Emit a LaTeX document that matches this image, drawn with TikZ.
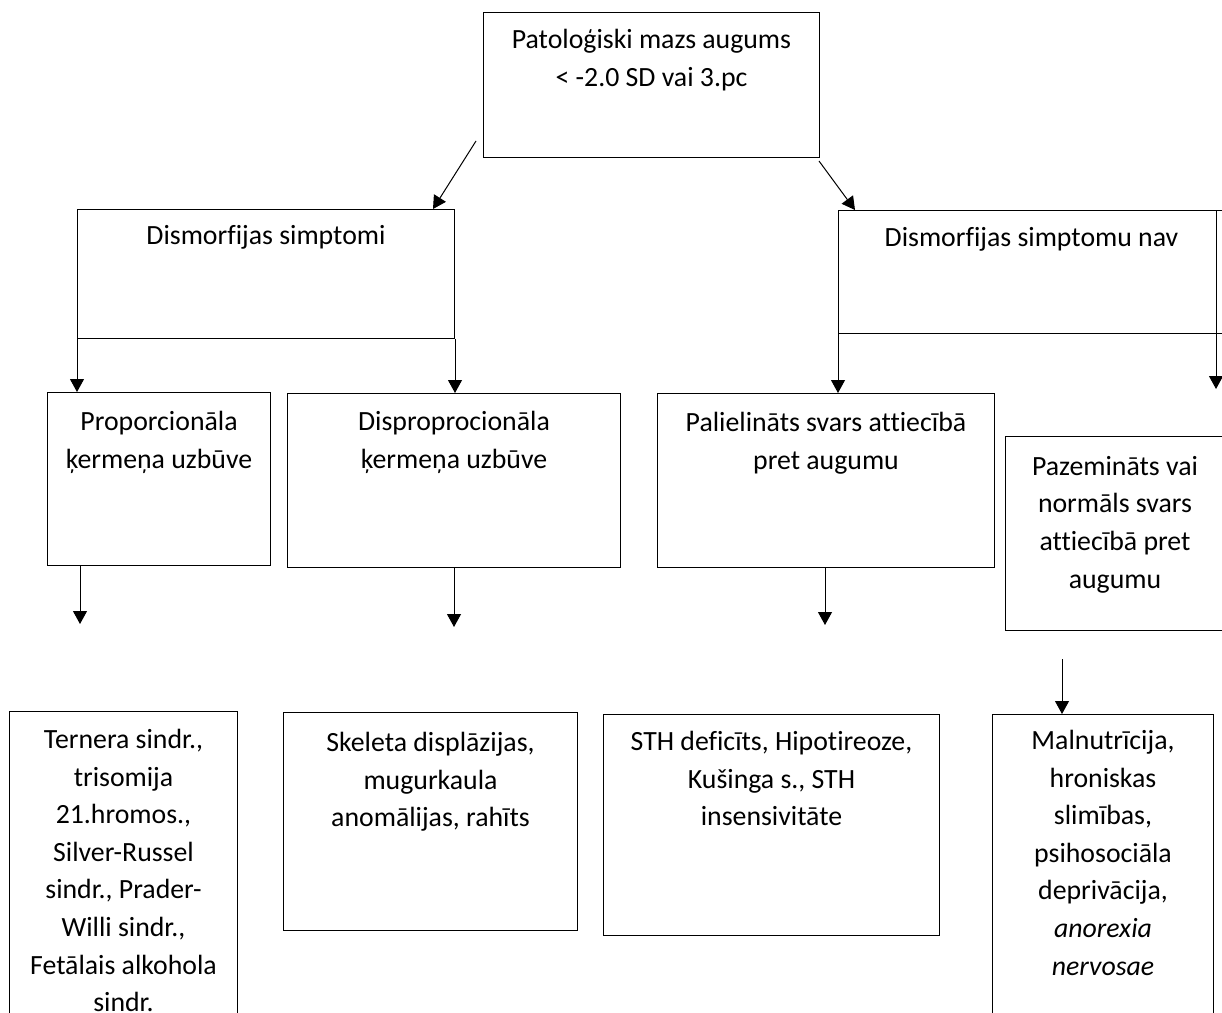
\documentclass[tikz,border=0pt]{standalone}
\usepackage{fontspec}
\setmainfont{Carlito}[Ligatures=NoCommon]
\usetikzlibrary{arrows.meta,positioning}

\begin{document}
\begin{tikzpicture}[x=1pt, y=-1pt,
    box/.style={draw, line width=1pt, inner sep=0pt, anchor=north west},
    txt/.style={align=center, inner sep=0pt, anchor=north,
      font=\fontsize{27.8}{37.6}\selectfont, execute at begin node=\strut},
    arr/.style={line width=1pt, -{Triangle[length=13pt, width=14pt]}},
    ]
    \useasboundingbox (0,0) rectangle (1222,1012);
    \clip (0,0) rectangle (1222,1012);

    % boxes
    \node[box, minimum width=336pt, minimum height=145pt] (top) at (483,12) {};
    \node[box, minimum width=377pt, minimum height=129pt] (dsym) at (77,209) {};
    \node[box, minimum width=386pt, minimum height=123pt] (dnav) at (838,210) {};
    \node[box, minimum width=223pt, minimum height=173pt] (prop) at (47,392) {};
    \node[box, minimum width=333pt, minimum height=174pt] (disp) at (287,393) {};
    \node[box, minimum width=337pt, minimum height=174pt] (pal) at (657,393) {};
    \node[box, minimum width=219pt, minimum height=194pt] (paz) at (1005,436) {};
    \node[box, minimum width=228pt, minimum height=320pt] (tern) at (9,711) {};
    \node[box, minimum width=294pt, minimum height=218pt] (skel) at (283,712) {};
    \node[box, minimum width=336pt, minimum height=221pt] (sth) at (603,714) {};
    \node[box, minimum width=221pt, minimum height=320pt] (maln) at (992,714) {};

    % texts
    \node[txt, below=17pt of top.north] (toptxt) {Patoloģiski mazs augums\\< -2.0 SD vai 3.pc};
    \node[txt, below=9pt of dsym.north] (dsymtxt) {Dismorfijas simptomi};
    \node[txt, below=10pt of dnav.north] (dnavtxt) {Dismorfijas simptomu nav};
    \node[txt, below=19pt of prop.north] (proptxt) {Proporcionāla\\ķermeņa uzbūve};
    \node[txt, below=18pt of disp.north] (disptxt) {Disproprocionāla\\ķermeņa uzbūve};
    \node[txt, below=19pt of pal.north] (paltxt) {Palielināts svars attiecībā\\pret augumu};
    \node[txt, below=20pt of paz.north] (paztxt) {Pazemināts vai\\normāls svars\\attiecībā pret\\augumu};
    \node[txt, below=18pt of tern.north] (terntxt) {Ternera sindr.,\\trisomija\\21.hromos.,\\Silver-Russel\\sindr., Prader-\\Willi sindr.,\\Fetālais alkohola\\sindr.};
    \node[txt, below=20pt of skel.north] (skeltxt) {Skeleta displāzijas,\\mugurkaula\\anomālijas, rahīts};
    \node[txt, below=17pt of sth.north] (sthtxt) {STH deficīts, Hipotireoze,\\Kušinga s., STH\\insensivitāte};
    \node[txt, below=16pt of maln.north] (malntxt) {Malnutrīcija,\\hroniskas\\slimības,\\psihosociāla\\deprivācija,\\\textit{anorexia}\\\textit{nervosae}};

    % free arrow ends
    \coordinate (propend) at (80,624);
    \coordinate (dispend) at (454,627);
    \coordinate (palend) at (825,625);
    \coordinate (malnstart) at (1062,659);

    % arrows
    \draw[arr] ([xshift=-7pt, yshift=17pt]top.south west) -- ([xshift=-22pt]dsym.north east);
    \draw[arr] ([xshift=-1pt, yshift=-3pt]top.south east) -- ([xshift=17pt]dnav.north west);
    \draw[arr] (dsym.south west) -- (dsym.south west |- prop.north);
    \draw[arr] (dsym.south east) -- (dsym.south east |- disp.north);
    \draw[arr] (dnav.south west) -- (dnav.south west |- pal.north);
    \draw[arr] ([xshift=-9pt]dnav.north east) -- ([xshift=-9pt, yshift=-55pt]dnav.south east);
    \draw[arr] (propend |- prop.south) -- (propend);
    \draw[arr] (dispend |- disp.south) -- (dispend);
    \draw[arr] (palend |- pal.south) -- (palend);
    \draw[arr] (malnstart) -- (malnstart |- maln.north);
\end{tikzpicture}
\end{document}
